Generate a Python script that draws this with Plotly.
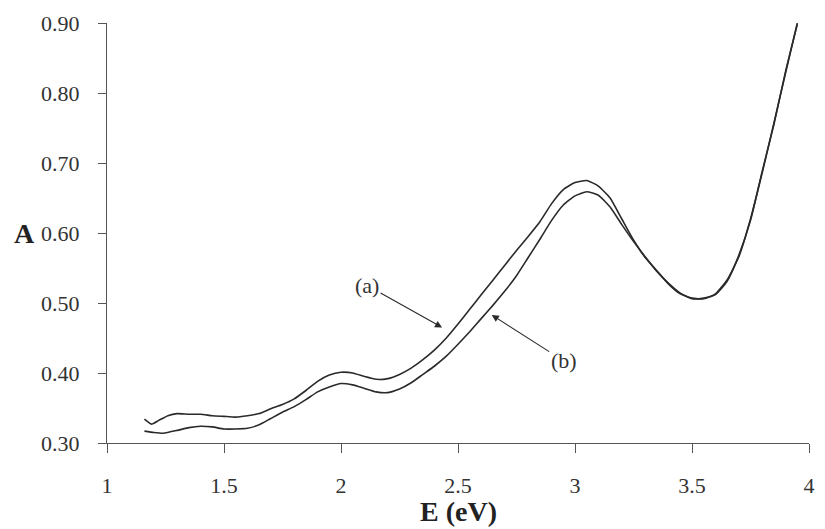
import plotly.graph_objects as go

# Curve (a) - upper
energy_a = [1.16, 1.19, 1.22, 1.26, 1.30, 1.35, 1.40, 1.45, 1.50, 1.55, 1.60, 1.65, 1.70, 1.75,
            1.80, 1.85, 1.90, 1.95, 2.00, 2.05, 2.10, 2.15, 2.20, 2.25, 2.30, 2.35, 2.40, 2.45,
            2.50, 2.55, 2.60, 2.65, 2.70, 2.75, 2.80, 2.85, 2.90, 2.95, 3.00, 3.05, 3.10, 3.15,
            3.20, 3.25, 3.30, 3.35, 3.40, 3.45, 3.50, 3.55, 3.60, 3.65, 3.70, 3.75, 3.80, 3.85,
            3.90, 3.95]
absorb_a = [0.334, 0.327, 0.332, 0.339, 0.342, 0.341, 0.341, 0.339, 0.338, 0.337, 0.339, 0.342,
            0.349, 0.355, 0.363, 0.375, 0.388, 0.397, 0.401, 0.400, 0.395, 0.391, 0.392, 0.398,
            0.407, 0.419, 0.433, 0.450, 0.470, 0.491, 0.512, 0.533, 0.554, 0.575, 0.595, 0.616,
            0.642, 0.662, 0.672, 0.675, 0.667, 0.650, 0.620, 0.590, 0.565, 0.546, 0.527, 0.513,
            0.507, 0.506, 0.513, 0.533, 0.566, 0.620, 0.686, 0.757, 0.829, 0.900]

# Curve (b) - lower
energy_b = [1.16, 1.20, 1.24, 1.30, 1.35, 1.40, 1.45, 1.50, 1.55, 1.60, 1.65, 1.70, 1.75, 1.80,
            1.85, 1.90, 1.95, 2.00, 2.05, 2.10, 2.15, 2.20, 2.25, 2.30, 2.35, 2.40, 2.45, 2.50,
            2.55, 2.60, 2.65, 2.70, 2.75, 2.80, 2.85, 2.90, 2.95, 3.00, 3.05, 3.10, 3.15, 3.20,
            3.25, 3.30, 3.35, 3.40, 3.45, 3.50, 3.55, 3.60, 3.65, 3.70, 3.75, 3.80, 3.85, 3.90,
            3.95]
absorb_b = [0.317, 0.315, 0.314, 0.318, 0.322, 0.324, 0.323, 0.320, 0.320, 0.321, 0.326, 0.335,
            0.344, 0.352, 0.362, 0.373, 0.380, 0.385, 0.383, 0.378, 0.373, 0.372, 0.377, 0.386,
            0.398, 0.410, 0.424, 0.441, 0.459, 0.478, 0.497, 0.517, 0.539, 0.565, 0.591, 0.618,
            0.640, 0.653, 0.659, 0.654, 0.637, 0.612, 0.588, 0.566, 0.545, 0.528, 0.514, 0.506,
            0.507, 0.512, 0.531, 0.568, 0.618, 0.688, 0.755, 0.831, 0.898]

x_ticks = [1, 1.5, 2, 2.5, 3, 3.5, 4]
x_tick_labels = ["1", "1.5", "2", "2.5", "3", "3.5", "4"]
y_ticks = [0.30, 0.40, 0.50, 0.60, 0.70, 0.80, 0.90]
y_tick_labels = ["0.30", "0.40", "0.50", "0.60", "0.70", "0.80", "0.90"]

FONT = "Liberation Serif"
INK = "#2a2a2a"

fig = go.Figure()
fig.add_trace(go.Scatter(x=energy_a, y=absorb_a, mode="lines", name="(a)",
                         line=dict(color=INK, width=1.6, shape="spline", smoothing=0.5)))
fig.add_trace(go.Scatter(x=energy_b, y=absorb_b, mode="lines", name="(b)",
                         line=dict(color=INK, width=1.6, shape="spline", smoothing=0.5)))

fig.update_layout(
    width=825, height=529,
    margin=dict(l=107, r=10, t=23, b=86),
    paper_bgcolor="white", plot_bgcolor="white",
    showlegend=False,
    font=dict(family=FONT, color="#333333", size=22),
    xaxis=dict(range=[1, 4], tickvals=x_ticks, ticktext=x_tick_labels,
               showgrid=False, zeroline=False, showline=True, linecolor="#555555",
               linewidth=1, ticks="outside", ticklen=9, tickcolor="#555555",
               ticklabelstandoff=14, tickfont=dict(family=FONT, size=22, color="#333333")),
    yaxis=dict(range=[0.3, 0.9], tickvals=y_ticks, ticktext=y_tick_labels,
               showgrid=False, zeroline=False, showline=True, linecolor="#555555",
               linewidth=1, ticks="outside", ticklen=8, tickcolor="#555555",
               ticklabelstandoff=14, tickfont=dict(family=FONT, size=22, color="#333333")),
    annotations=[
        dict(text="<b>E (eV)</b>", xref="paper", yref="paper", x=0.5, y=-0.163,
             xanchor="center", yanchor="middle", showarrow=False,
             font=dict(family=FONT, size=28, color="#222222")),
        dict(text="<b>A</b>", xref="paper", yref="paper", x=-0.117, y=0.5,
             xanchor="center", yanchor="middle", showarrow=False,
             font=dict(family=FONT, size=28, color="#222222")),
        dict(text="(a)", x=2.432, y=0.465, xref="x", yref="y", ax=-75, ay=-42,
             showarrow=True, arrowhead=2, arrowsize=1.3, arrowwidth=1.1, arrowcolor=INK,
             font=dict(family=FONT, size=22, color="#333333")),
        dict(text="(b)", x=2.644, y=0.483, xref="x", yref="y", ax=72, ay=46,
             showarrow=True, arrowhead=2, arrowsize=1.3, arrowwidth=1.1, arrowcolor=INK,
             font=dict(family=FONT, size=22, color="#333333")),
    ],
)

fig.write_html("out.html")
